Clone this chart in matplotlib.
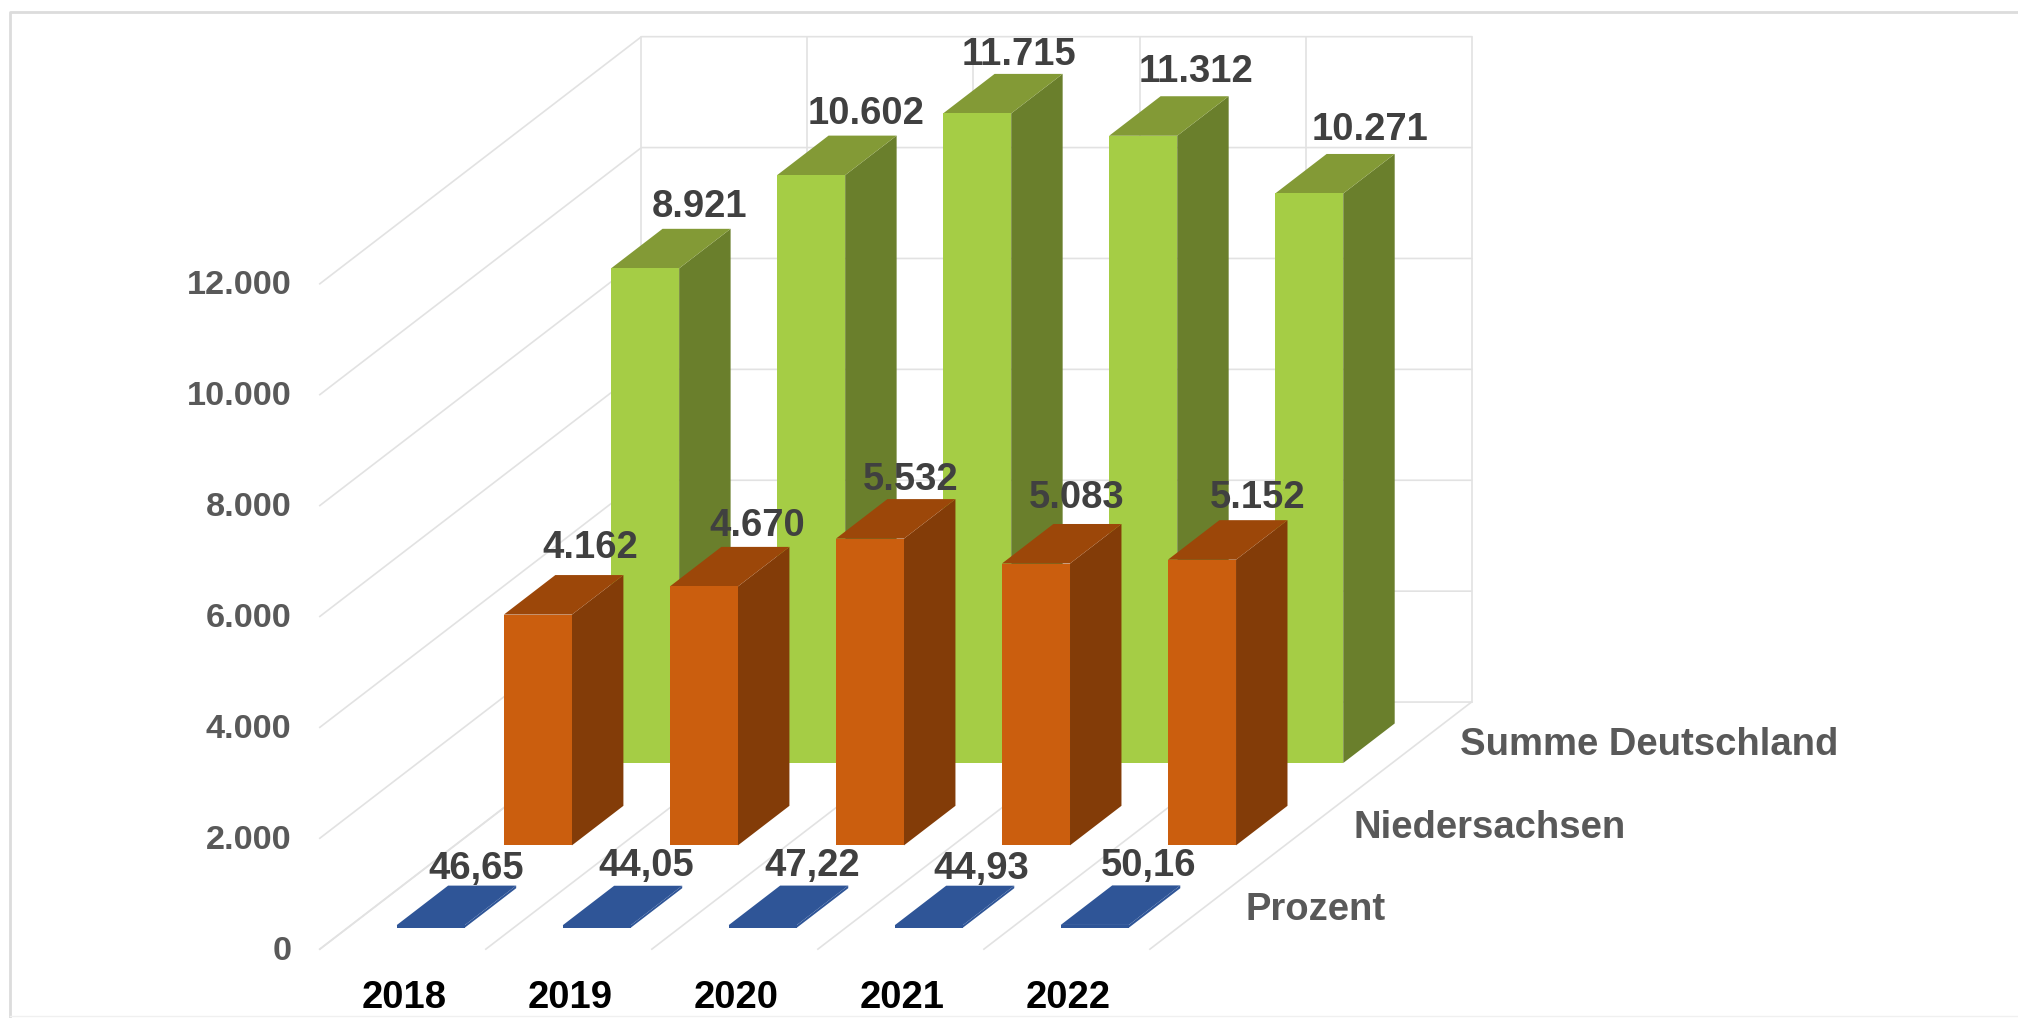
# -*- coding: utf-8 -*-
import matplotlib
matplotlib.use('Agg')
import matplotlib.pyplot as plt
from matplotlib.patches import Polygon

years = ['2018', '2019', '2020', '2021', '2022']
series_names = ['Prozent', 'Niedersachsen', 'Summe Deutschland']

prozent = [46.65, 44.05, 47.22, 44.93, 50.16]
niedersachsen = [4162, 4670, 5532, 5083, 5152]
deutschland = [8921, 10602, 11715, 11312, 10271]

prozent_labels = ['46,65', '44,05', '47,22', '44,93', '50,16']
nds_labels = ['4.162', '4.670', '5.532', '5.083', '5.152']
de_labels = ['8.921', '10.602', '11.715', '11.312', '10.271']

yticks = [0, 2000, 4000, 6000, 8000, 10000, 12000]
ytick_labels = ['0', '2.000', '4.000', '6.000', '8.000', '10.000', '12.000']

# oblique projection, screen units are the 1568x791 view
ORIGIN_X, ORIGIN_Y = 248.5, 737.5
SLOT_W = 129.0
DEPTH_DX, DEPTH_DY = 83.3, -64.0
PX_PER_UNIT = 517.0 / 12000
BAR_W = 0.41      # of one category slot
BAR_D = 0.48      # of one series slot

GRID = '#e2e2e2'


def proj(cat, depth, val):
    x = ORIGIN_X + cat * SLOT_W + depth * DEPTH_DX
    y = ORIGIN_Y + depth * DEPTH_DY - val * PX_PER_UNIT
    return x, y


def draw_bar(ax, i, s, val, front, side, top, z):
    c0 = i + (1 - BAR_W) / 2
    c1 = c0 + BAR_W
    d0 = s + (1 - BAR_D) / 2
    d1 = d0 + BAR_D
    ax.add_patch(Polygon([proj(c1, d0, 0), proj(c1, d1, 0), proj(c1, d1, val), proj(c1, d0, val)],
                         fc=side, ec='none', zorder=z))
    ax.add_patch(Polygon([proj(c0, d0, val), proj(c1, d0, val), proj(c1, d1, val), proj(c0, d1, val)],
                         fc=top, ec='none', zorder=z))
    ax.add_patch(Polygon([proj(c0, d0, 0), proj(c1, d0, 0), proj(c1, d0, val), proj(c0, d0, val)],
                         fc=front, ec='none', zorder=z + 0.1))
    return proj(c1, d1, val)


def main():
    plt.rcParams['font.family'] = ['Liberation Sans', 'DejaVu Sans']
    fig = plt.figure(figsize=(20.18, 10.18), dpi=100)
    ax = fig.add_axes([0, 0, 1, 1])
    ax.set_xlim(0, 1568)
    ax.set_ylim(791, 0)
    ax.axis('off')

    # outer frame, open on the right
    ax.plot([7.8, 7.8, 1568], [791, 9, 9], color='#dcdcdc', lw=2, zorder=1)
    ax.plot([7.8, 1568], [789.5, 789.5], color='#f0f0f0', lw=1, zorder=1)

    n = len(years)
    nd = len(series_names)
    # walls: value lines
    for v in yticks:
        xs = [proj(0, 0, v)[0], proj(0, nd, v)[0], proj(n, nd, v)[0]]
        ys = [proj(0, 0, v)[1], proj(0, nd, v)[1], proj(n, nd, v)[1]]
        ax.plot(xs, ys, color=GRID, lw=1.2, zorder=1)
    # back wall verticals and floor lines
    for i in range(n + 1):
        ax.plot([proj(i, nd, 0)[0], proj(i, nd, 12000)[0]], [proj(i, nd, 0)[1], proj(i, nd, 12000)[1]],
                color=GRID, lw=1.2, zorder=1)
        ax.plot([proj(i, 0, 0)[0], proj(i, nd, 0)[0]], [proj(i, 0, 0)[1], proj(i, nd, 0)[1]],
                color=GRID, lw=1.2, zorder=1)

    # bars back to front
    tops_de = [draw_bar(ax, i, 2, v, '#a5cd45', '#6a7f2c', '#839a36', 3) for i, v in enumerate(deutschland)]
    tops_nds = [draw_bar(ax, i, 1, v, '#cb5e0e', '#833c08', '#9c4709', 4) for i, v in enumerate(niedersachsen)]
    tops_pro = [draw_bar(ax, i, 0, v, '#2f5597', '#2f5597', '#2f5597', 5) for i, v in enumerate(prozent)]

    # hand placed label offsets from the back right top corner
    offs_de = [(-24, -17), (-24, -17), (-34, -15), (-25, -19), (-19, -19)]
    offs_nds = [(-26, -21), (-25, -16), (-35, -15), (-35, -20), (-23, -17)]
    offs_pro = [(-31, -13), (-28, -15), (-28, -15), (-26, -13), (-25, -15)]
    fs = 27.5
    for tops, labels, offs in [(tops_de, de_labels, offs_de), (tops_nds, nds_labels, offs_nds),
                               (tops_pro, prozent_labels, offs_pro)]:
        for (x, y), lab, (dx, dy) in zip(tops, labels, offs):
            ax.text(x + dx, y + dy, lab, ha='center', va='center', fontsize=fs, fontweight='bold',
                    color='#404040', zorder=8)

    for v, lab in zip(yticks, ytick_labels):
        x, y = proj(0, 0, v)
        ax.text(x - 22, y + 1.5, lab, ha='right', va='center', fontsize=24.7, fontweight='bold', color='#595959', zorder=8)

    for i, lab in enumerate(years):
        x, y = proj(i + 0.5, 0, 0)
        ax.text(x + 1, y + 38, lab, ha='center', va='center', fontsize=fs, fontweight='bold', color='black', zorder=8)

    for s, lab in enumerate(series_names):
        x, y = proj(n, s + 0.5, 0)
        ax.text(x + 33, y + 1.5, lab, ha='left', va='center', fontsize=fs, fontweight='bold', color='#595959', zorder=8)

    fig.savefig('out.png', dpi=100)


if __name__ == '__main__':
    main()
